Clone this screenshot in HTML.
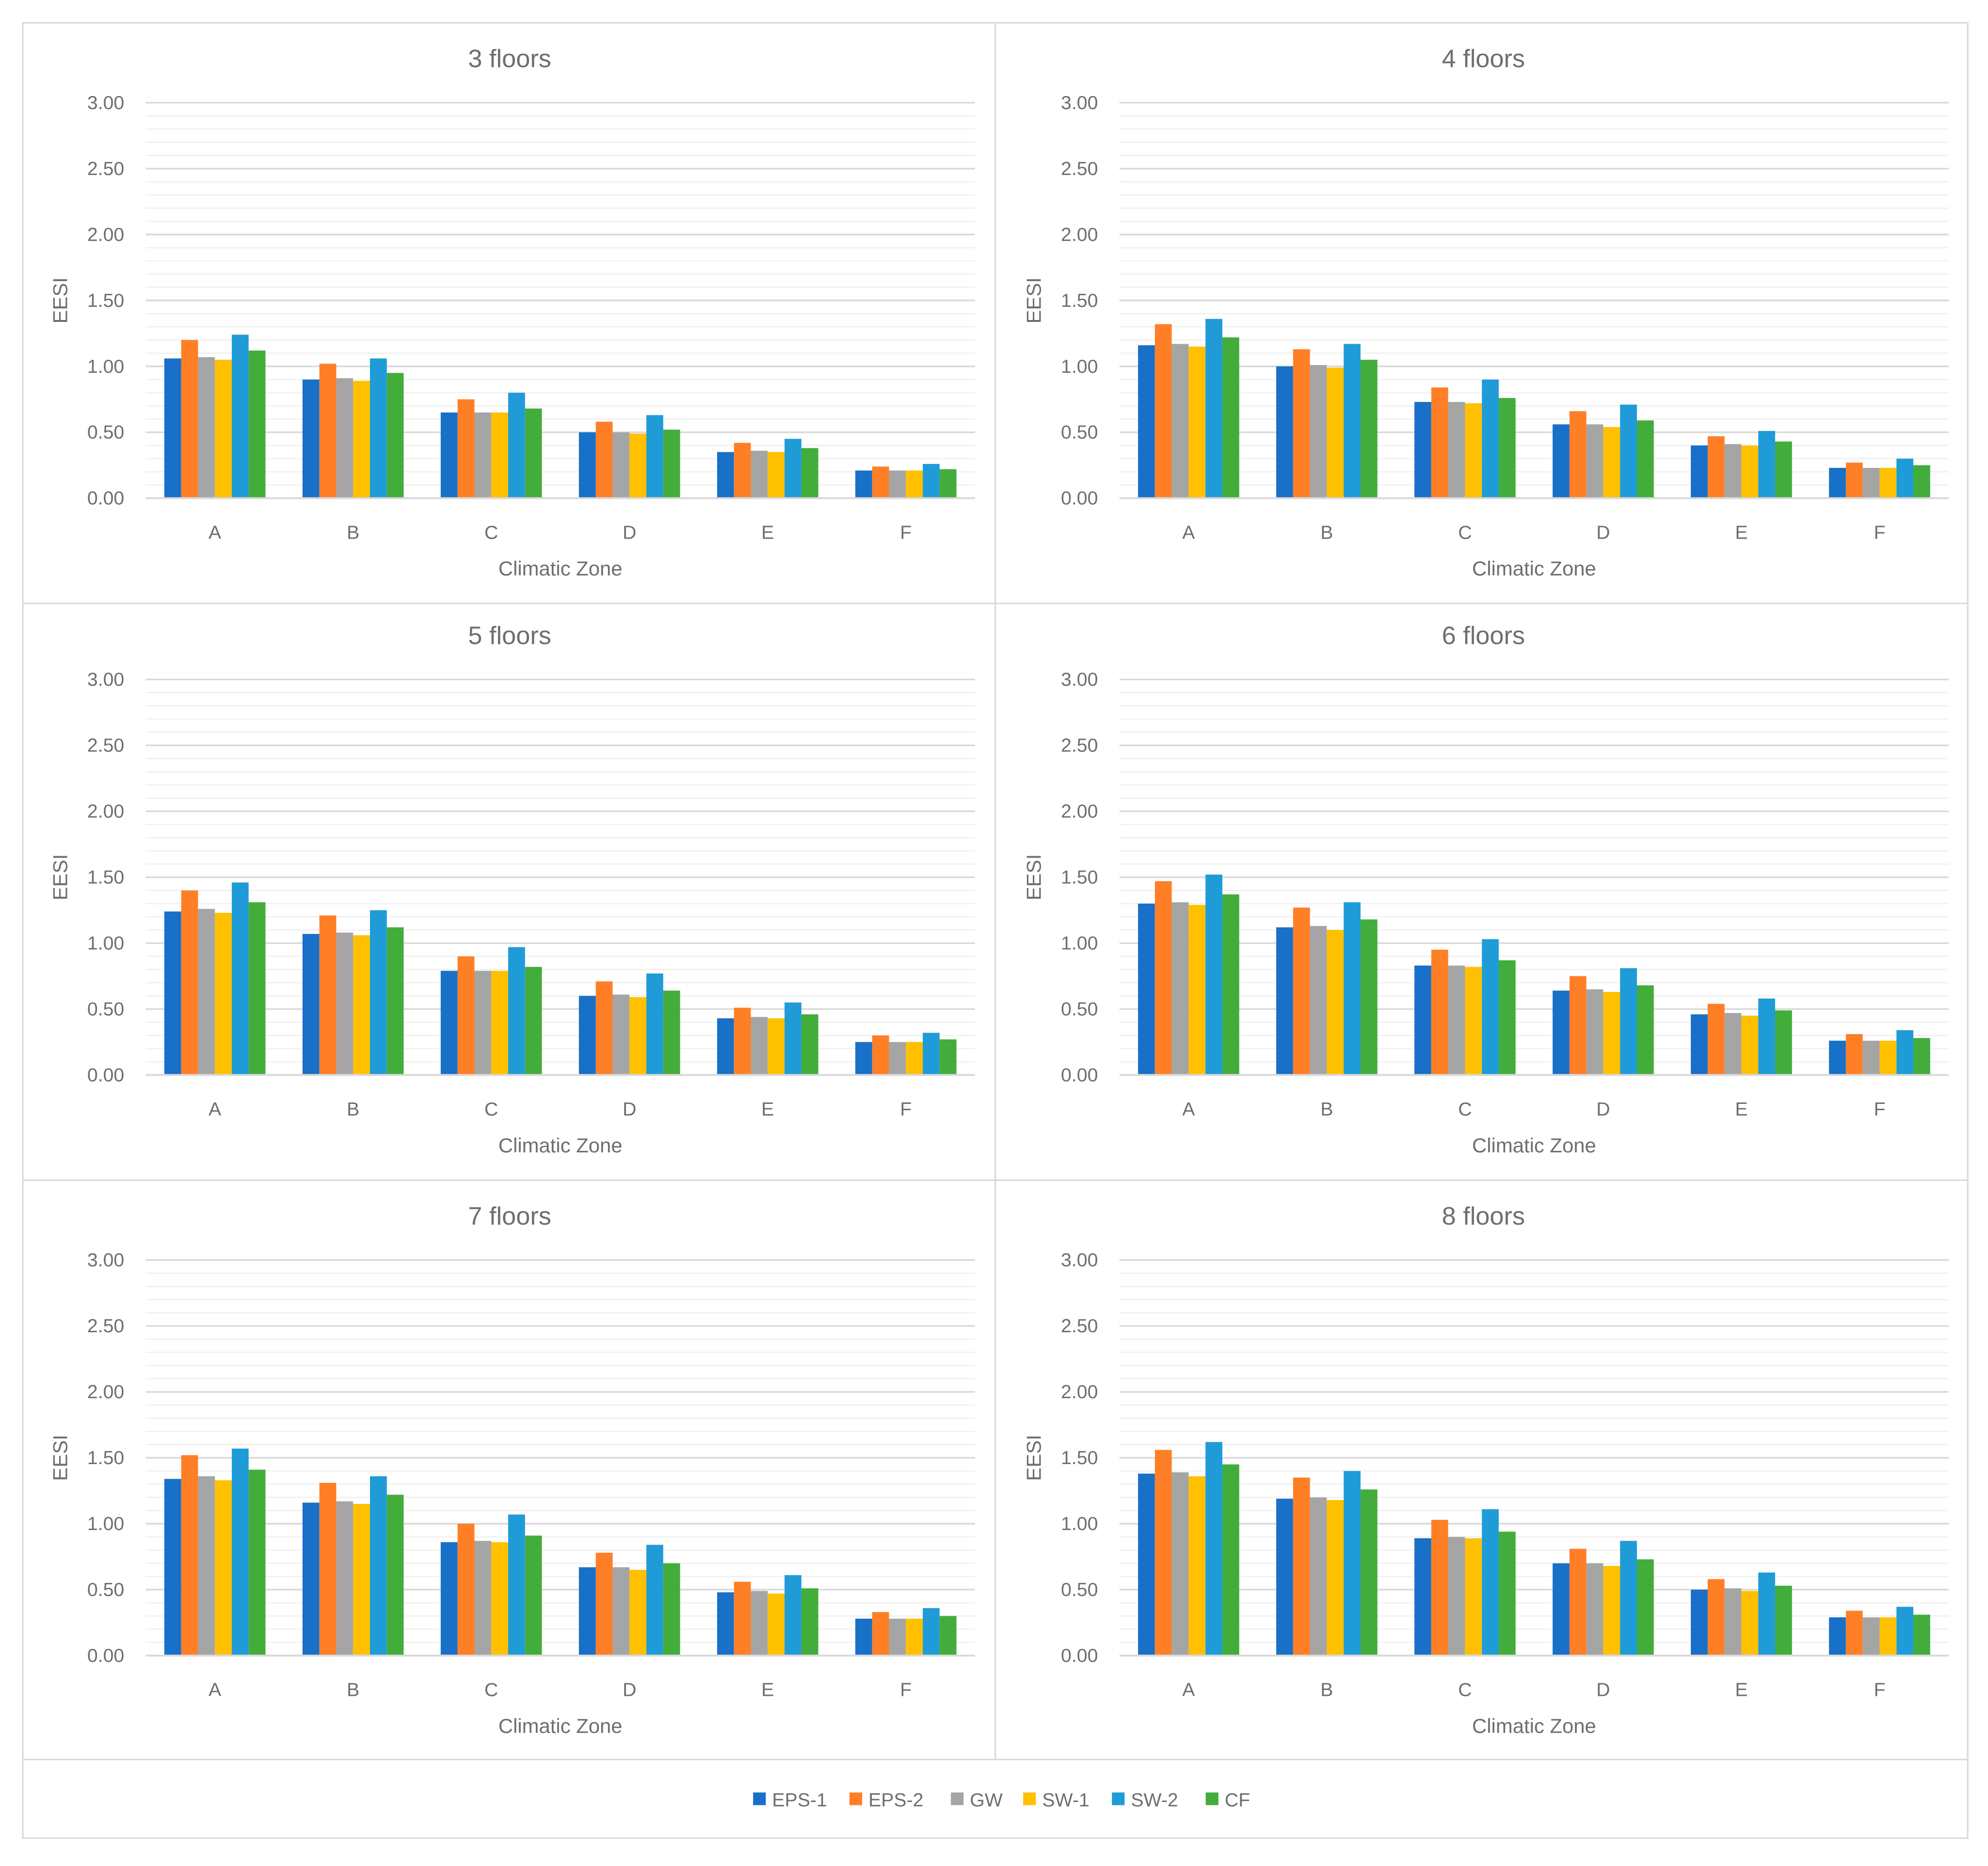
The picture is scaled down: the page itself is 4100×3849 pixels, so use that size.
<!DOCTYPE html>
<html><head><meta charset="utf-8">
<style>
html,body{margin:0;padding:0;background:#fff;}
svg{display:block;}
text{font-family:"Liberation Sans Narrow","Liberation Sans",sans-serif;fill:#6e6e6e;}
</style></head>
<body>
<svg id="fig" width="4100" height="3849" viewBox="0 0 1568 1472" preserveAspectRatio="none" xmlns="http://www.w3.org/2000/svg">
<rect x="0" y="0" width="1568" height="1472" fill="#fff"/>
<g id="frames" stroke="#d9d9d9" stroke-width="1.2" fill="none">
<rect x="18" y="18" width="1534" height="1432"/>
<line x1="18" y1="476" x2="1552" y2="476"/>
<line x1="18" y1="931" x2="1552" y2="931"/>
<line x1="18" y1="1388" x2="1552" y2="1388"/>
<line x1="785" y1="18" x2="785" y2="1388"/>
</g>
<g id="charts"></g>
<g id="legend"></g>
</svg>
<script>
const categories = ["A","B","C","D","E","F"];
const seriesNames = ["EPS-1","EPS-2","GW","SW-1","SW-2","CF"];
const colors = ["#1870c8","#ff7f27","#a5a5a5","#ffc000","#1f9cd8","#43ad3c"];
const panelTitles = ["3 floors","4 floors","5 floors","6 floors","7 floors","8 floors"];
const yTicks = ["0.00","0.50","1.00","1.50","2.00","2.50","3.00"];
const yMax = 3;
// values per panel: [category][series]
const floors3 = [[1.06,1.20,1.07,1.05,1.24,1.12],[0.90,1.02,0.91,0.89,1.06,0.95],[0.65,0.75,0.65,0.65,0.80,0.68],[0.50,0.58,0.50,0.49,0.63,0.52],[0.35,0.42,0.36,0.35,0.45,0.38],[0.21,0.24,0.21,0.21,0.26,0.22]];
const floors4 = [[1.16,1.32,1.17,1.15,1.36,1.22],[1.00,1.13,1.01,0.99,1.17,1.05],[0.73,0.84,0.73,0.72,0.90,0.76],[0.56,0.66,0.56,0.54,0.71,0.59],[0.40,0.47,0.41,0.40,0.51,0.43],[0.23,0.27,0.23,0.23,0.30,0.25]];
const floors5 = [[1.24,1.40,1.26,1.23,1.46,1.31],[1.07,1.21,1.08,1.06,1.25,1.12],[0.79,0.90,0.79,0.79,0.97,0.82],[0.60,0.71,0.61,0.59,0.77,0.64],[0.43,0.51,0.44,0.43,0.55,0.46],[0.25,0.30,0.25,0.25,0.32,0.27]];
const floors6 = [[1.30,1.47,1.31,1.29,1.52,1.37],[1.12,1.27,1.13,1.10,1.31,1.18],[0.83,0.95,0.83,0.82,1.03,0.87],[0.64,0.75,0.65,0.63,0.81,0.68],[0.46,0.54,0.47,0.45,0.58,0.49],[0.26,0.31,0.26,0.26,0.34,0.28]];
const floors7 = [[1.34,1.52,1.36,1.33,1.57,1.41],[1.16,1.31,1.17,1.15,1.36,1.22],[0.86,1.00,0.87,0.86,1.07,0.91],[0.67,0.78,0.67,0.65,0.84,0.70],[0.48,0.56,0.49,0.47,0.61,0.51],[0.28,0.33,0.28,0.28,0.36,0.30]];
const floors8 = [[1.38,1.56,1.39,1.36,1.62,1.45],[1.19,1.35,1.20,1.18,1.40,1.26],[0.89,1.03,0.90,0.89,1.11,0.94],[0.70,0.81,0.70,0.68,0.87,0.73],[0.50,0.58,0.51,0.49,0.63,0.53],[0.29,0.34,0.29,0.29,0.37,0.31]];
const panelData = [floors3,floors4,floors5,floors6,floors7,floors8];

const NS="http://www.w3.org/2000/svg";
function mk(tag,attrs,parent){const e=document.createElementNS(NS,tag);for(const k in attrs)e.setAttribute(k,attrs[k]);parent.appendChild(e);return e;}
const root=document.getElementById('charts');
const colX=[115,883], rowTop=[81,536,994];
const plotW=654, plotH=312;
panelData.forEach((data,p)=>{
  const x0=colX[p%2], top=rowTop[Math.floor(p/2)], bottom=top+plotH;
  const yScale=v=>bottom-v/yMax*plotH;
  const band=plotW/categories.length, barW=13.3;
  const g=mk('g',{},root);
  
  
  for(let i=0;i<=30;i++){
    const v=i*0.1,y=yScale(v);
    const major=i%5===0;
    const ln=mk('line',{x1:x0,x2:x0+plotW,y1:y,y2:y,stroke:major?'#d9d9d9':'#f0f0f0','stroke-width':major?1.3:1},g);
    
    
  }
  yTicks.forEach((t,i)=>{
    const v=i*0.5;
    const tx=mk('text',{x:x0-17,y:yScale(v)+5,'text-anchor':'end','font-size':15},g);
    tx.textContent=t;
    
    
  });
  categories.forEach((c,ci)=>{
    const cx=x0+band*(ci+0.5);
    data[ci].forEach((v,si)=>{
      const bx=cx-barW*3+si*barW;
      const r=mk('rect',{x:bx,y:yScale(v),width:barW,height:bottom-yScale(v),fill:colors[si]},g);
      
      
    });
    const tx=mk('text',{x:cx,y:bottom+32,'text-anchor':'middle','font-size':15},g);
    tx.textContent=c;
    
    
  });
  const base=mk('line',{x1:x0,x2:x0+plotW,y1:bottom,y2:bottom,stroke:'#d9d9d9','stroke-width':1.5},g);
  
  
  const title=mk('text',{x:x0+287,y:top-28,'text-anchor':'middle','font-size':20},g);
  title.textContent=panelTitles[p];
  
  
  const xt=mk('text',{x:x0+plotW/2,y:bottom+61,'text-anchor':'middle','font-size':16},g);
  xt.textContent='Climatic Zone';
  
  
  const yy=top+156, yx=x0-62;
  const yt=mk('text',{x:yx,y:yy,'text-anchor':'middle','font-size':16,transform:'rotate(-90 '+yx+' '+yy+')'},g);
  yt.textContent='EESI';
  
  
});
const leg=document.getElementById('legend');
const legX=[594,670,750,807,877,951];
seriesNames.forEach((n,i)=>{
  const it=mk('g',{},leg);
  
  
  mk('rect',{x:legX[i],y:1414,width:10,height:10,fill:colors[i]},it);
  const t=mk('text',{x:legX[i]+15,y:1425,'font-size':15},it);
  t.textContent=n;
});
</script>
</body></html>
